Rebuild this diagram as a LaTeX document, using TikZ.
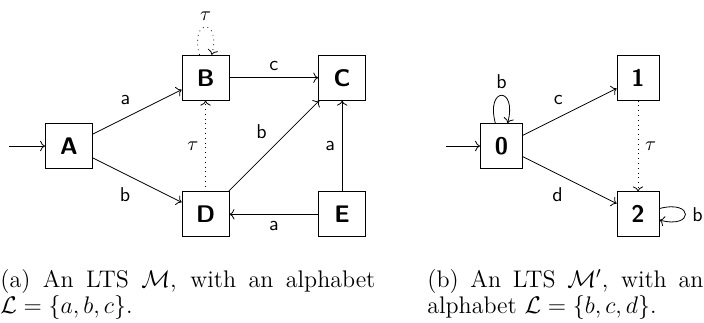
\documentclass[tikz,border=0pt]{standalone}
\usepackage{tikz}
\usetikzlibrary{arrows.meta, positioning}
\usepackage{amsmath,amssymb}

\begin{document}
\begin{tikzpicture}[
  lts/.style={draw, thin, inner sep=0pt, minimum width=23.5pt, minimum height=22.5pt, font=\fontsize{12}{14}\selectfont\sffamily\bfseries},
  ltsnum/.style={lts, minimum width=21pt},
  trans/.style={->, thin},
  tautrans/.style={->, thin, dotted},
  lbl/.style={font=\sffamily},
  capt/.style={font=\fontsize{12}{12}\selectfont, align=justify, inner sep=0pt, anchor=base west}
]
  \useasboundingbox (-1.2125,-3.093) rectangle (11.159,2.566);

  % 初始箭头起点
  \coordinate (initA) at (-1.05,0);
  \coordinate (init0) at (6.63,0);

  % LTS M 的状态
  \node[lts] (A) at (0,0) {A};
  \node[lts] (B) at (2.4,1.2) {B};
  \node[lts] (C) at (4.8,1.2) {C};
  \node[lts] (D) at (2.4,-1.2) {D};
  \node[lts] (E) at (4.8,-1.2) {E};

  % LTS M 的迁移
  \draw[trans] (initA) -- (A);
  \draw[trans] (A) -- node[lbl, auto] {a} (B);
  \draw[trans] (A) -- node[lbl, auto, swap] {b} (D);
  \draw[trans] (B) -- node[lbl, auto] {c} (C);
  \draw[trans] (D) -- node[lbl, auto] {b} (C);
  \draw[trans] (E) -- node[lbl, auto] {a} (C);
  \draw[trans] (E) -- node[lbl, auto] {a} (D);
  \draw[tautrans] (D) -- node[auto] {$\tau$} (B);
  \draw[tautrans] (B) to[loop above] node[above] {$\tau$} (B);

  % LTS M' 的状态
  \node[ltsnum] (s0) at (7.6,0) {0};
  \node[ltsnum] (s1) at (10.0,1.2) {1};
  \node[ltsnum] (s2) at (10.0,-1.2) {2};

  % LTS M' 的迁移
  \draw[trans] (init0) -- (s0);
  \draw[trans] (s0) to[loop above] node[lbl, above] {b} (s0);
  \draw[trans] (s0) -- node[lbl, auto] {c} (s1);
  \draw[trans] (s0) -- node[lbl, auto, swap] {d} (s2);
  \draw[tautrans] (s1) -- node[auto] {$\tau$} (s2);
  \draw[trans] (s2) to[loop right] node[lbl, right] {b} (s2);

  % 子图标题
  \node[capt, text width=187.5pt] (capa) at (-1.2125,-2.478)
    {(a) An LTS $\mathcal{M}$, with an alphabet\linebreak $\mathcal{L} = \{a, b, c\}$.};
  \node[capt, text width=138pt] (capb) at (6.291,-2.478)
    {(b) An LTS $\mathcal{M}'$, with an\linebreak alphabet $\mathcal{L} = \{b, c, d\}$.};

\end{tikzpicture}
\end{document}
